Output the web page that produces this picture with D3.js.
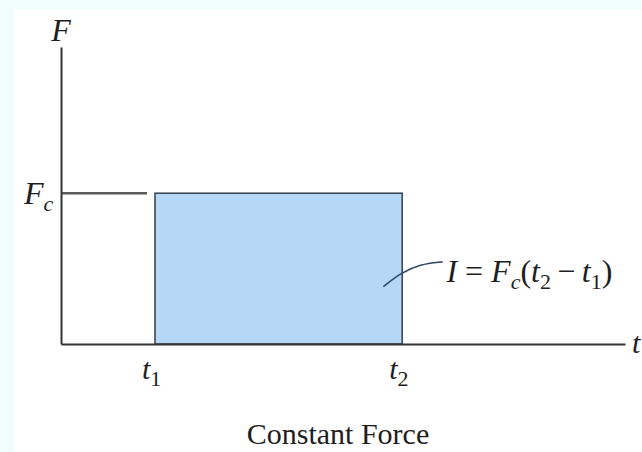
<!DOCTYPE html>
<html>
<head>
<meta charset="utf-8">
<script src="https://cdn.jsdelivr.net/npm/d3@7"></script>
<style>
  html, body { margin: 0; padding: 0; background: #effdfd; }
  svg { display: block; }
  svg text { font-family: "Liberation Serif", "Times New Roman", Times, "DejaVu Serif", serif; fill: #1e1e1e; }
</style>
</head>
<body>
<svg></svg>
<script>
// values (time and force units are arbitrary)
let tMax = 6
let fMax = 1.97
let t1 = 1
let t2 = 3.63
let Fc = 1
let tickTimes = [t1, t2]
let tickSubs = ['1', '2']
// leader line from inside the area out to the formula, in (t, F) units
let leaderT = [3.43, 3.61, 3.82, 4.06]
let leaderF = [0.38, 0.47, 0.53, 0.545]
let formulaAt = [4.1, 0.41]

let width = 642
let height = 452
let serif = '"Liberation Serif", "Times New Roman", Times, "DejaVu Serif", serif'

let svg = d3.select('svg')
    .attr('width', width)
    .attr('height', height)
    .attr('font-family', serif)

// white paper area
svg.append('rect')
    .attr('x', 14)
    .attr('y', 9)
    .attr('width', width - 14)
    .attr('height', height - 9)
    .attr('fill', '#ffffff')

let xScale = d3.scaleLinear()
    .domain([0, tMax])
    .range([61, 625])

let yScale = d3.scaleLinear()
    .domain([0, fMax])
    .range([344, 47])

// the impulse area
svg.append('rect')
    .attr('x', xScale(t1))
    .attr('y', yScale(Fc))
    .attr('width', xScale(t2) - xScale(t1))
    .attr('height', yScale(0) - yScale(Fc))
    .attr('fill', '#b5d8f6')
    .attr('stroke', '#3c4856')
    .attr('stroke-width', 1.6)

// Fc level line, stops short of the area
svg.append('line')
    .attr('x1', xScale(0))
    .attr('x2', xScale(t1) - 8)
    .attr('y1', yScale(Fc))
    .attr('y2', yScale(Fc))
    .attr('stroke', '#5a5a5a')
    .attr('stroke-width', 2.5)

let xAxis = d3.axisBottom(xScale).tickValues([]).tickSizeOuter(0)
let yAxis = d3.axisLeft(yScale).tickValues([]).tickSizeOuter(0)

svg.append('g')
    .attr('transform', 'translate(0, ' + yScale(0) + ')')
    .call(xAxis)
    .select('.domain')
    .attr('stroke', '#333')
    .attr('stroke-width', 2)

svg.append('g')
    .attr('transform', 'translate(' + xScale(0) + ', 0)')
    .call(yAxis)
    .select('.domain')
    .attr('stroke', '#333')
    .attr('stroke-width', 2)

// axis names
svg.append('text')
    .attr('x', xScale(0))
    .attr('y', 41)
    .attr('text-anchor', 'middle')
    .attr('font-size', 32)
    .attr('font-style', 'italic')
    .text('F')

svg.append('text')
    .attr('x', 632)
    .attr('y', yScale(0) + 9)
    .attr('font-size', 30)
    .attr('font-style', 'italic')
    .text('t')

// Fc label on the force axis
let fcLabel = svg.append('text')
    .attr('x', 24)
    .attr('y', yScale(Fc) + 11)
    .attr('font-size', 32)
    .attr('font-style', 'italic')
fcLabel.append('tspan').text('F')
fcLabel.append('tspan').attr('font-size', 22).attr('dy', 7).text('c')

// t1, t2 labels
tickTimes.forEach((t, i) => {
    let lbl = svg.append('text')
        .attr('x', xScale(t) - 13)
        .attr('y', yScale(0) + 35)
        .attr('font-size', 30)
    lbl.append('tspan').attr('font-style', 'italic').text('t')
    lbl.append('tspan').attr('font-size', 22).attr('dy', 7).text(tickSubs[i])
})

// leader and formula
let leaderLine = d3.line()
    .x((d, i) => xScale(leaderT[i]))
    .y((d, i) => yScale(leaderF[i]))
    .curve(d3.curveBasis)

svg.append('path')
    .attr('d', leaderLine(leaderT))
    .attr('fill', 'none')
    .attr('stroke', '#2f4a66')
    .attr('stroke-width', 1.6)

let formula = svg.append('text')
    .attr('x', xScale(formulaAt[0]))
    .attr('y', yScale(formulaAt[1]))
    .attr('font-size', 32)
formula.append('tspan').attr('font-style', 'italic').text('I')
formula.append('tspan').text(' = ')
formula.append('tspan').attr('font-style', 'italic').text('F')
formula.append('tspan').attr('font-style', 'italic').attr('font-size', 22).attr('dy', 7).text('c')
formula.append('tspan').attr('dy', -7).text('(')
formula.append('tspan').attr('font-style', 'italic').text('t')
formula.append('tspan').attr('font-size', 22).attr('dy', 7).text('2')
formula.append('tspan').attr('dy', -7).text('\u2009\u2212\u2009')
formula.append('tspan').attr('font-style', 'italic').text('t')
formula.append('tspan').attr('font-size', 22).attr('dy', 7).text('1')
formula.append('tspan').attr('dy', -7).text(')')

// caption
svg.append('text')
    .attr('x', 338)
    .attr('y', 444)
    .attr('text-anchor', 'middle')
    .attr('font-size', 30)
    .text('Constant Force')
</script>
</body>
</html>
